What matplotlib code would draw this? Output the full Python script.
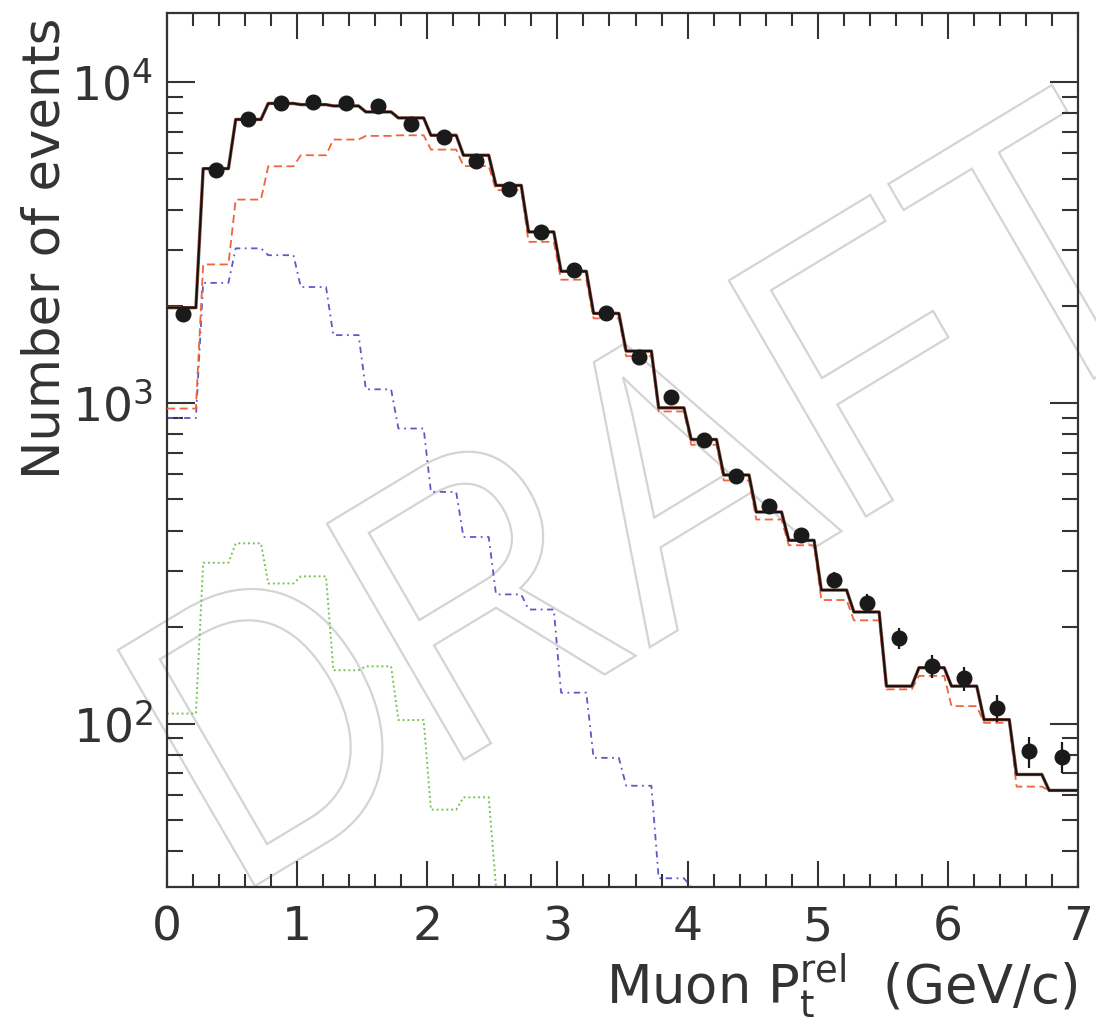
import numpy as np
import matplotlib
matplotlib.use("Agg")
import matplotlib.pyplot as plt
from matplotlib.textpath import TextPath
from matplotlib.patches import PathPatch
from matplotlib.font_manager import FontProperties
from matplotlib.transforms import Affine2D
from matplotlib.ticker import MultipleLocator, LogLocator, NullFormatter

plt.rcParams["font.family"] = ["DejaVu Sans"]
plt.rcParams["mathtext.fontset"] = "dejavusans"

# muon pt_rel, 28 bins of 0.25 GeV/c
edges = np.linspace(0, 7, 29)
centers = 0.5 * (edges[:-1] + edges[1:])

data = [1890, 5300, 7650, 8620, 8640, 8620, 8400, 7420, 6740, 5680,
        4640, 3400, 2590, 1910, 1390, 1045, 765, 590, 478, 387,
        281, 238, 185, 151, 138.5, 112, 82, 79]
total = [1980, 5370, 7640, 8570, 8500, 8420, 8065, 7725, 6820, 5910,
         4760, 3410, 2570, 1900, 1450, 965, 769, 596, 457, 373,
         261, 223, 131, 149.5, 131, 103, 69.5, 62]
mc_b = [960, 2700, 4300, 5460, 5910, 6615, 6790, 6820, 6155, 5470,
        4600, 3175, 2420, 1833, 1398, 940, 740, 573, 433, 360,
        243, 210, 128, 141, 113.5, 100.7, 63.7, 62]
mc_c = [897, 2365, 3030, 2885, 2296, 1626, 1102, 832, 528, 382,
        253, 227, 125, 78.3, 64.1, 33, 0, 0, 0, 0,
        0, 0, 0, 0, 0, 0, 0, 0]
mc_light = [107.6, 317.5, 365, 273.7, 288, 146.8, 151, 102.7, 54, 59,
            0, 0, 0, 0, 0, 0, 0, 0, 0, 0,
            0, 0, 0, 0, 0, 0, 0, 0]

ylo, yhi = 31, 16400
ink = "#333333"


def hist_line(vals, d=0.028):
    # step outline with slightly slanted risers, like the original render
    xs, ys = [], []
    for lo, hi, v in zip(edges[:-1], edges[1:], vals):
        xs += [lo + d, hi - d]
        ys += [max(v, ylo), max(v, ylo)]  # empty bins sit on the frame
    xs[0], xs[-1] = edges[0], edges[-1]
    return xs, ys


fig = plt.figure(figsize=(10.96, 10.24), dpi=100)
fig.patch.set_facecolor("white")
ax = fig.add_axes([167 / 1096, 137 / 1024, 911 / 1096, 874 / 1024])
ax.patch.set_alpha(0)

ax.plot(*hist_line(mc_light), color="#77c455", lw=1.4,
        linestyle=(0, (1, 1.5)), zorder=2)
ax.plot(*hist_line(mc_c), color="#5a5ac8", lw=1.3,
        linestyle=(0, (3.5, 2.5, 1, 2.5)), zorder=2)
ax.plot(*hist_line(mc_b), color="#f0643c", lw=1.3,
        linestyle=(0, (4.5, 2.5)), zorder=3)
ax.plot(*hist_line(total), color="#8a4a3a", lw=2.4, zorder=4)
ax.plot(*hist_line(total), color="#111111", lw=1.4, zorder=5)

err = np.sqrt(data)  # Poisson errors
ax.errorbar(centers, data, yerr=err, fmt="o", color="#1a1a1a", ms=10.5,
            elinewidth=1.6, capsize=0, zorder=6)

ax.set_yscale("log")
ax.set_xlim(0, 7)
ax.set_ylim(ylo, yhi)
ax.xaxis.set_major_locator(MultipleLocator(1))
ax.xaxis.set_minor_locator(MultipleLocator(0.2))
ax.yaxis.set_major_locator(LogLocator(base=10))
ax.yaxis.set_minor_locator(LogLocator(base=10, subs=np.arange(2, 10)))
ax.yaxis.set_minor_formatter(NullFormatter())

ax.tick_params(which="both", direction="in", top=True, right=True,
               color=ink, width=1.5, labelcolor=ink)
ax.tick_params(axis="x", which="major", length=19, labelsize=34, pad=13)
ax.tick_params(axis="x", which="minor", length=9.5)
ax.tick_params(axis="y", which="major", length=20, labelsize=34, pad=10)
ax.tick_params(axis="y", which="minor", length=11.5)
for s in ax.spines.values():
    s.set_color(ink)
    s.set_linewidth(1.6)

fig.text(1078 / 1096, 1 - 1003 / 1024,
         r"Muon $\mathregular{P_{t}^{rel}}$  (GeV/c)",
         ha="right", va="baseline", fontsize=38, color=ink)
fig.text(60 / 1096, 1 - 18 / 1024, "Number of events", rotation=90,
         rotation_mode="anchor", ha="right", va="baseline",
         fontsize=37, color=ink)

# DRAFT watermark, outline only
tp = TextPath((0, 0), "DRAFT", size=100,
              prop=FontProperties(family="Liberation Sans"))
ext = tp.get_extents()
w, h = ext.x1 - ext.x0, ext.y1 - ext.y0
base_vec = (934, 565)
up_vec = (-137, 236)
corner = (255, 138)
mtx = np.array([[base_vec[0] / w, up_vec[0] / h, corner[0]],
                [base_vec[1] / w, up_vec[1] / h, corner[1]],
                [0, 0, 1]])
tr = (Affine2D().translate(-ext.x0, -ext.y0) + Affine2D(mtx)
      + Affine2D().scale(1 / 1096, 1 / 1024) + fig.transFigure)
mark = PathPatch(tp, facecolor="none", edgecolor="#d4d4d4", lw=1.6,
                 transform=tr, zorder=-1)
fig.add_artist(mark)

fig.savefig("out.png", dpi=100)
